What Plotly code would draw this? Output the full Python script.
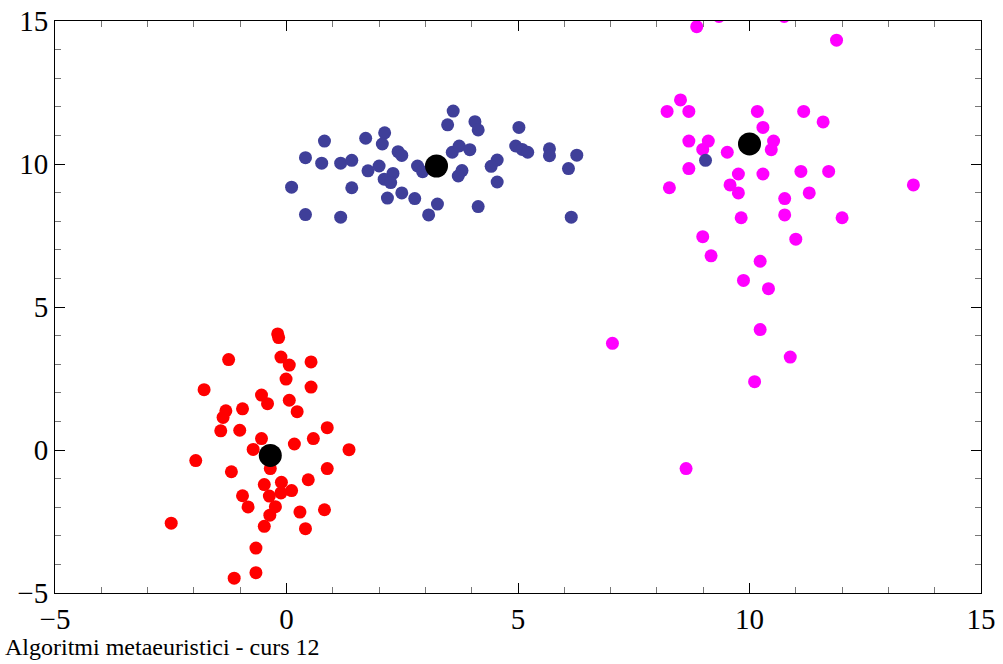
import plotly.graph_objects as go

# Cluster 1 (red)
red_x = [-0.19, -0.17, -1.25, -0.12, 0.06, 0.53, -0.01, 0.53, -1.78, -0.54, -0.41, 0.06, 0.23,
         -0.95, -1.31, -1.37, -1.42, -1.01, 0.88, -0.54, 0.58, 0.17, -0.72, 1.35, -1.96, -0.35,
         0.88, -1.19, -0.48, -0.11, 0.47, 0.11, -0.12, -0.37, -0.95, -0.83, -0.24, -0.36, 0.29,
         0.82, -2.49, -0.48, 0.41, -0.66, -0.66, -1.13]
red_y = [4.06, 3.93, 3.16, 3.25, 2.97, 3.08, 2.48, 2.20, 2.11, 1.92, 1.62, 1.74, 1.34,
         1.44, 1.37, 1.14, 0.67, 0.69, 0.78, 0.40, 0.40, 0.21, 0.02, 0.01, -0.37, -0.65,
         -0.65, -0.76, -1.21, -1.13, -1.04, -1.42, -1.50, -1.61, -1.60, -1.99, -1.98, -2.28, -2.17,
         -2.09, -2.56, -2.67, -2.75, -3.43, -4.29, -4.48]

# Cluster 2 (blue)
blue_x = [3.60, 3.48, 4.07, 4.14, 5.02, 0.82, 1.71, 2.12, 2.07, 0.41, 0.76, 1.17, 1.41, 1.76,
          2.00, 2.41, 2.49, 2.30, 2.11, 2.25, 2.83, 2.94, 3.58, 3.73, 3.96, 3.79, 3.71, 4.55,
          4.42, 4.55, 4.95, 5.09, 5.21, 5.68, 5.68, 6.27, 6.09, 0.11, 1.41, 2.49, 2.18, 2.77,
          3.26, 3.07, 4.14, 0.41, 1.17, 6.15, 9.05]
blue_y = [11.85, 11.37, 11.48, 11.19, 11.28, 10.80, 10.90, 11.09, 10.70, 10.22, 10.03, 10.03,
          10.13, 9.76, 9.93, 10.43, 10.30, 9.67, 9.47, 9.35, 9.93, 9.73, 10.41, 10.63, 10.50,
          9.77, 9.58, 10.14, 9.92, 9.37, 10.63, 10.51, 10.41, 10.53, 10.29, 10.31, 9.84, 9.19,
          9.17, 8.99, 8.81, 8.79, 8.60, 8.22, 8.51, 8.23, 8.14, 8.14, 10.13]

# Cluster 3 (magenta)
mag_x = [8.86, 9.34, 10.75, 11.88, 8.51, 8.22, 8.69, 10.17, 11.17, 11.59, 10.29, 8.69, 9.11,
         8.99, 9.52, 10.52, 10.47, 8.69, 9.76, 10.29, 11.11, 11.71, 8.27, 9.58, 9.76, 10.76,
         11.29, 13.54, 9.82, 10.76, 12.00, 8.99, 11.00, 9.17, 10.23, 9.87, 10.41, 10.23, 7.04,
         10.88, 10.11, 8.63]
mag_y = [14.80, 15.16, 15.16, 14.33, 12.24, 11.84, 11.84, 11.84, 11.84, 11.47, 11.28, 10.80,
         10.80, 10.51, 10.41, 10.80, 10.50, 9.84, 9.65, 9.65, 9.74, 9.74, 9.17, 9.27, 8.99,
         8.79, 8.99, 9.27, 8.12, 8.22, 8.12, 7.46, 7.37, 6.79, 6.60, 5.93, 5.64, 4.21, 3.73,
         3.25, 2.39, -0.65]

# Centroids
cent_x = [-0.35, 3.24, 10.00]
cent_y = [-0.19, 9.93, 10.70]

xticks = [-5, 0, 5, 10, 15]
yticks = [-5, 0, 5, 10, 15]
caption = "Algoritmi metaeuristici - curs 12"

SERIF = "Liberation Serif"

fig = go.Figure()
for xs, ys, col in [(red_x, red_y, "#FF0000"), (mag_x, mag_y, "#FF00FF"), (blue_x, blue_y, "#3F3F99")]:
    fig.add_trace(go.Scatter(x=xs, y=ys, mode="markers",
                             marker=dict(size=13, color=col, line=dict(width=0)),
                             showlegend=False, hoverinfo="skip"))
fig.add_trace(go.Scatter(x=cent_x, y=cent_y, mode="markers",
                         marker=dict(size=23, color="#000000", line=dict(width=0)),
                         showlegend=False, hoverinfo="skip"))

axis_common = dict(showgrid=False, zeroline=False, showline=True, linecolor="black", linewidth=1,
                   mirror="allticks", ticks="inside", ticklen=10, tickwidth=1, tickcolor="black",
                   automargin=False,
                   tickfont=dict(family=SERIF, size=29, color="black"),
                   minor=dict(ticks="inside", ticklen=6, tickwidth=1, tickcolor="#777777", dtick=1))

fig.update_xaxes(range=[-5, 15], tickvals=xticks, ticktext=[str(v).replace("-", "\u2212") for v in xticks],
                 **axis_common)
fig.update_yaxes(range=[-5, 15], tickvals=yticks, ticktext=[str(v).replace("-", "\u2212") for v in yticks],
                 **axis_common)

fig.add_annotation(text=caption, xref="paper", yref="paper", x=-0.056, y=-0.069,
                   xanchor="left", yanchor="top", showarrow=False,
                   font=dict(family=SERIF, size=24, color="black"))

fig.update_layout(width=1003, height=664, margin=dict(l=55, r=22, t=21, b=71),
                  plot_bgcolor="white", paper_bgcolor="white")

fig.write_html("out.html")
